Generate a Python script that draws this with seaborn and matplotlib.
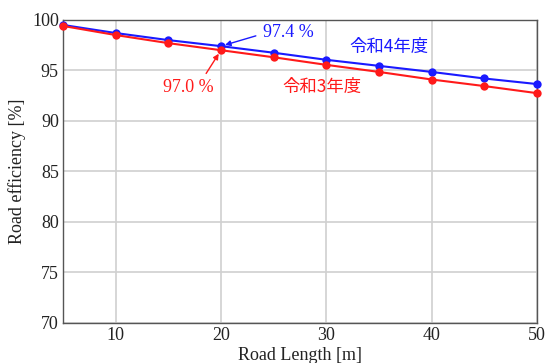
import numpy as np
import pandas as pd
import matplotlib.pyplot as plt
import seaborn as sns

# Road length [m]
road_length = [5, 10, 15, 20, 25, 30, 35, 40, 45, 50]
# Road efficiency [%]
eff_r4 = [99.5, 98.7, 98.0, 97.4, 96.75, 96.05, 95.45, 94.85, 94.2, 93.65]
eff_r3 = [99.4, 98.5, 97.7, 97.0, 96.3, 95.55, 94.85, 94.1, 93.45, 92.75]
series_names = ["令和4年度", "令和3年度"]
series_colors = ["#1a1aff", "#ff1a1a"]

df = pd.DataFrame({
    "length": road_length * 2,
    "eff": eff_r4 + eff_r3,
    "year": [series_names[0]] * len(road_length) + [series_names[1]] * len(road_length),
})

sns.set_theme(style="whitegrid")
plt.rcParams['font.family'] = ['Liberation Serif', 'Noto Sans CJK JP']

fig = plt.figure(figsize=(5.46, 3.63), dpi=100)
ax = fig.add_axes([0.1154, 0.1102, 0.868, 0.835])

sns.lineplot(data=df, x="length", y="eff", hue="year", palette=dict(zip(series_names, series_colors)),
             marker="o", markersize=6, markeredgewidth=0, linewidth=1.5, legend=False, ax=ax,
             zorder=3, clip_on=False)

ax.set_xlim(5, 50)
ax.set_ylim(70, 100)
ax.set_xticks([10, 20, 30, 40, 50])
ax.set_yticks([70, 75, 80, 85, 90, 95, 100])
ax.grid(True, color="#d0d0d0", linewidth=1.2)
for s in ax.spines.values():
    s.set_color("#555555")
    s.set_linewidth(1.0)
ax.tick_params(axis="both", direction="in", length=4, color="#555555", labelsize=13, pad=3,
               labelcolor="#222222")
ax.set_xlabel("Road Length [m]", fontsize=13, color="#222222", labelpad=2)
ax.set_ylabel("Road efficiency [%]", fontsize=13, color="#222222", labelpad=4)

# annotations
ax.annotate("97.4 %", xy=(road_length[3], eff_r4[3]), xytext=(24.0, 98.8),
            color=series_colors[0], fontsize=13, ha="left", va="center",
            arrowprops=dict(arrowstyle="-|>", color=series_colors[0], lw=1.0, mutation_scale=8,
                            relpos=(0.0, 0.4), shrinkA=3, shrinkB=3))
ax.annotate("97.0 %", xy=(road_length[3], eff_r3[3]), xytext=(14.5, 93.3),
            color=series_colors[1], fontsize=13, ha="left", va="center",
            arrowprops=dict(arrowstyle="-|>", color=series_colors[1], lw=1.0, mutation_scale=8,
                            relpos=(0.78, 1.0), shrinkA=2, shrinkB=3))
ax.text(32.2, 97.3, series_names[0], color=series_colors[0], fontsize=12.5,
        family=['Noto Sans CJK JP', 'DejaVu Sans'], ha="left", va="center")
ax.text(25.8, 93.4, series_names[1], color=series_colors[1], fontsize=12.5,
        family=['Noto Sans CJK JP', 'DejaVu Sans'], ha="left", va="center")

fig.savefig("out.png", dpi=100)
